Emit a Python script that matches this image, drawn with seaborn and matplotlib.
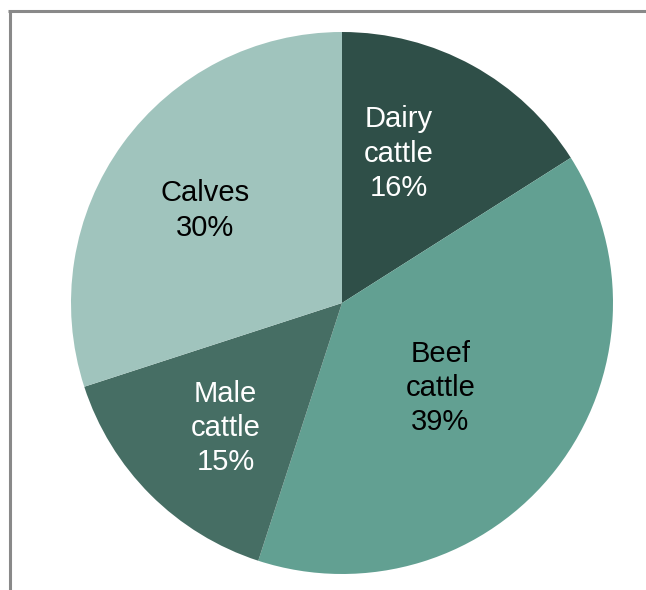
import matplotlib
matplotlib.use("Agg")
import matplotlib.pyplot as plt
import seaborn as sns
import numpy as np
from matplotlib.lines import Line2D

# Share of cattle by category
categories = ["Dairy\ncattle", "Beef\ncattle", "Male\ncattle", "Calves"]
shares = [16, 39, 15, 30]
slice_colors = ["#2f4f48", "#62a092", "#466e64", "#a0c4bd"]
text_colors = ["white", "black", "white", "black"]

sns.set_theme(style="white")
plt.rcParams["font.family"] = ["Liberation Sans", "DejaVu Sans"]

W, H = 646, 590
fig = plt.figure(figsize=(W / 100, H / 100), dpi=100)
fig.patch.set_facecolor("white")

# Square axes holding the pie
cx, cy, r = 342, 303, 271
ax = fig.add_axes([(cx - r) / W, (H - cy - r) / H, 2 * r / W, 2 * r / H])
ax.set_facecolor("white")

wedges, _ = ax.pie(
    shares,
    colors=slice_colors,
    startangle=90,
    counterclock=False,
    radius=1,
    wedgeprops=dict(linewidth=0, antialiased=True),
)
ax.set_xlim(-1, 1)
ax.set_ylim(-1, 1)
ax.axis("off")

# Label placement: angle offset (deg) and radial distance per slice
angle_shift = [-8, 3, -2, -2]
label_dist = [0.59, 0.48, 0.63, 0.61]
for w, name, val, tc, da, d in zip(wedges, categories, shares, text_colors, angle_shift, label_dist):
    mid = np.deg2rad((w.theta1 + w.theta2) / 2 - da)
    ax.text(d * np.cos(mid), d * np.sin(mid), f"{name}\n{val}%",
            ha="center", va="center", color=tc, fontsize=21,
            linespacing=1.28)

# Thin grey frame along the top and left edges
frame = dict(color="#898989", linewidth=2.2, transform=fig.transFigure, solid_capstyle="butt")
fig.add_artist(Line2D([9.5 / W, 9.5 / W], [0, 1 - 10.5 / H], **frame))
fig.add_artist(Line2D([8.4 / W, 1], [1 - 10.5 / H, 1 - 10.5 / H], **frame))

fig.savefig("out.png", dpi=100, facecolor="white")
